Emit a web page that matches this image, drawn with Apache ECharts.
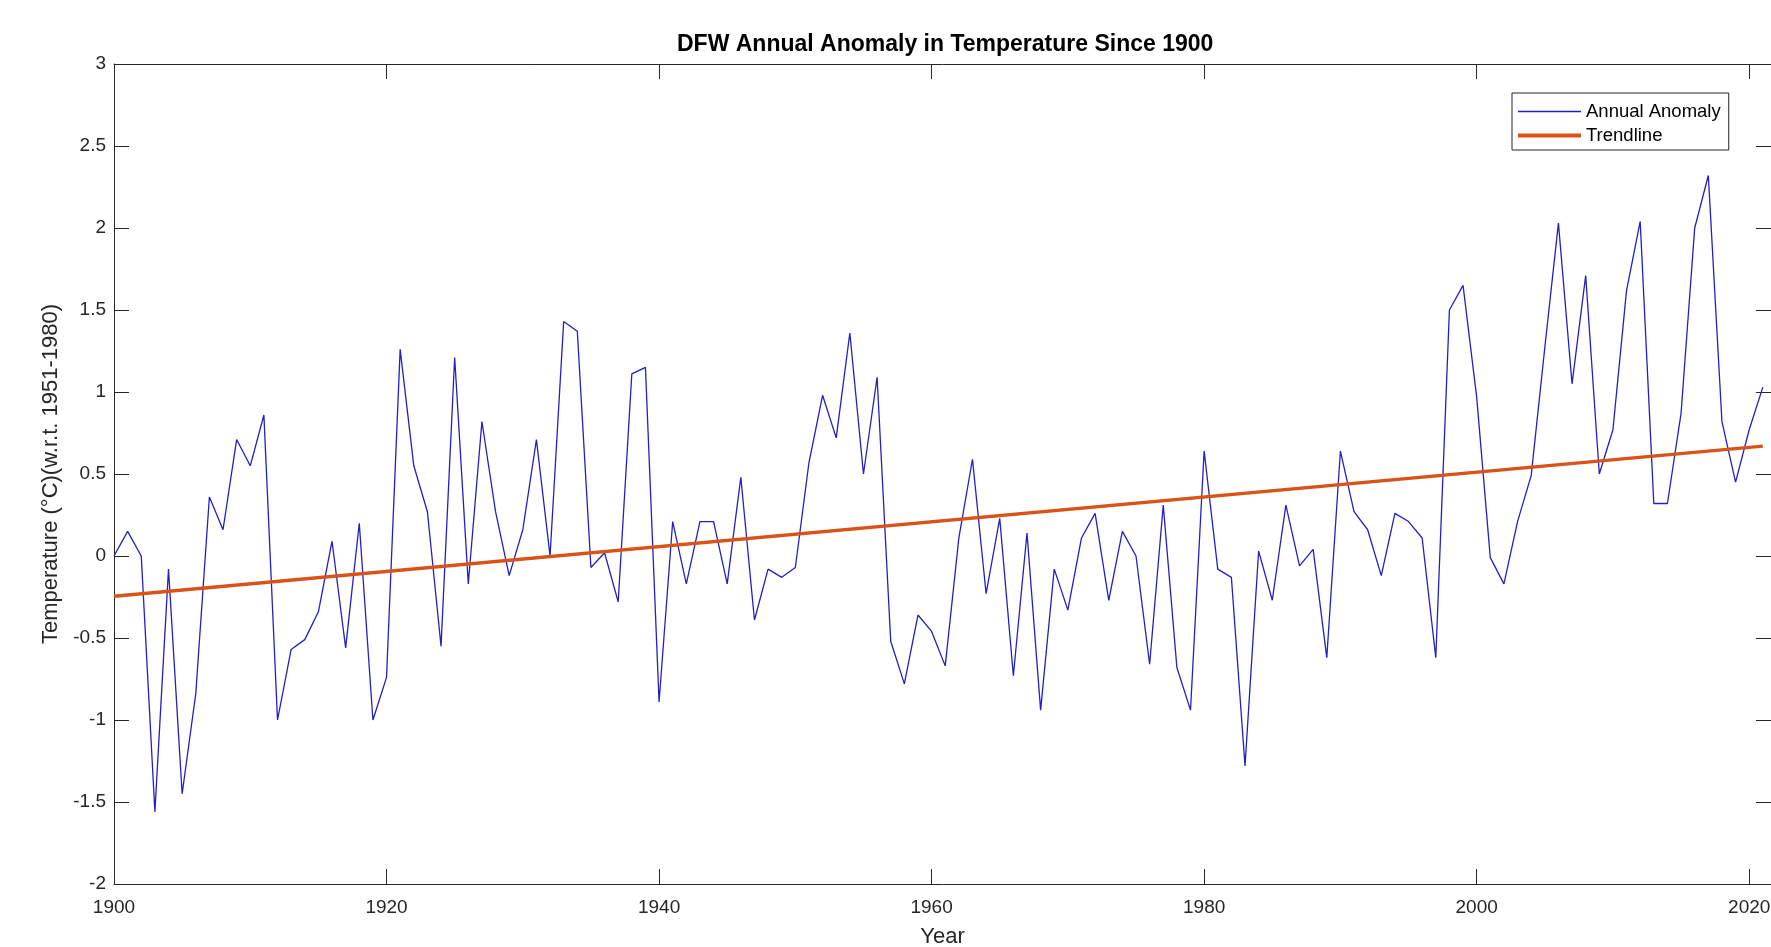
<!DOCTYPE html>
<html>
<head>
<meta charset="utf-8">
<title>DFW Annual Anomaly</title>
<script src="https://cdn.jsdelivr.net/npm/echarts@6/dist/echarts.min.js"></script>
<style>
html, body { margin: 0; padding: 0; background: #fff; }
#chart { width: 1771px; height: 947px; }
</style>
</head>
<body>
<div id="chart"></div>
<script>
// annual anomaly, one value per year starting 1900
var startYear = 1900
var anomaly = [
    0.00, 0.15, 0.00, -1.56, -0.08, -1.45, -0.84, 0.36, 0.16, 0.71,
    0.55, 0.86, -1.00, -0.57, -0.51, -0.34, 0.09, -0.56, 0.20, -1.00,
    -0.74, 1.26, 0.55, 0.27, -0.55, 1.21, -0.17, 0.82, 0.27, -0.12,
    0.16, 0.71, 0.00, 1.43, 1.37, -0.07, 0.02, -0.28, 1.11, 1.15,
    -0.89, 0.21, -0.17, 0.21, 0.21, -0.17, 0.48, -0.39, -0.08, -0.13,
    -0.07, 0.57, 0.98, 0.72, 1.36, 0.50, 1.09, -0.52, -0.78, -0.36,
    -0.46, -0.67, 0.11, 0.59, -0.23, 0.23, -0.73, 0.14, -0.94, -0.08,
    -0.33, 0.11, 0.26, -0.27, 0.15, 0.00, -0.66, 0.31, -0.68, -0.94,
    0.64, -0.08, -0.13, -1.28, 0.03, -0.27, 0.31, -0.06, 0.04, -0.62,
    0.64, 0.27, 0.16, -0.12, 0.26, 0.21, 0.11, -0.62, 1.50, 1.65,
    0.97, -0.01, -0.17, 0.21, 0.49, 1.27, 2.03, 1.05, 1.71, 0.50,
    0.77, 1.62, 2.04, 0.32, 0.32, 0.87, 2.00, 2.32, 0.82, 0.45,
    0.77, 1.03
]
// trendline end points [year, value]
var trendYears = [1900, 2021]
var trendValues = [-0.245, 0.67]

var xMin = 1900, xMax = 2021.6, xStep = 20
var yMin = -2, yMax = 3, yStep = 0.5

var fontFamily = "'Liberation Sans', Arial, sans-serif"
var axisColor = '#262626'
var blue = '#2020c4'
var orange = '#d95319'

var anomalyData = anomaly.map(function(v, i) {
    return [startYear + i, v]
})
var trendData = trendYears.map(function(y, i) {
    return [y, trendValues[i]]
})

var boxAxis = {
    axisLine: { show: true, onZero: false, lineStyle: { color: axisColor, width: 1 } },
    axisTick: { show: true, inside: true, length: 15, lineStyle: { color: axisColor, width: 1 } },
    splitLine: { show: false }
}

var myChart = echarts.init(document.getElementById('chart'), null, { renderer: 'canvas' })
var option = {
    backgroundColor: '#fff',
    animation: false,
    title: {
        text: 'DFW Annual Anomaly in Temperature Since 1900',
        left: 677,
        top: 33,
        padding: 0,
        textStyle: { fontFamily: fontFamily, fontSize: 23, fontWeight: 'bold', color: '#000' }
    },
    legend: {
        orient: 'vertical',
        left: 1512,
        top: 93,
        padding: [9, 8, 5, 6],
        itemWidth: 63,
        itemHeight: 18,
        itemGap: 5,
        borderColor: axisColor,
        borderWidth: 1,
        backgroundColor: '#fff',
        textStyle: { fontFamily: fontFamily, fontSize: 18.5, color: '#000', lineHeight: 18 },
        data: [
            { name: 'Annual Anomaly', icon: 'path://M0,0 M63,18 M0,8.3 L63,8.3 L63,9.7 L0,9.7 Z' },
            { name: 'Trendline', icon: 'path://M0,0 M63,18 M0,7 L63,7 L63,11 L0,11 Z' }
        ]
    },
    grid: { left: 114, right: 0, top: 64, bottom: 63, outerBoundsMode: 'none' },
    xAxis: [
        Object.assign({}, boxAxis, {
            type: 'value', position: 'bottom',
            min: xMin, max: xMax, interval: xStep,
            name: 'Year', nameLocation: 'middle', nameGap: 42,
            nameTextStyle: { fontFamily: fontFamily, fontSize: 22, color: axisColor },
            axisLabel: {
                margin: 14, color: axisColor, fontFamily: fontFamily, fontSize: 19,
                showMaxLabel: false,
                formatter: function(v) { return v % xStep === 0 ? String(v) : '' }
            }
        }),
        Object.assign({}, boxAxis, {
            type: 'value', position: 'top',
            min: xMin, max: xMax, interval: xStep,
            axisLabel: { show: false }
        })
    ],
    yAxis: [
        Object.assign({}, boxAxis, {
            type: 'value', position: 'left',
            min: yMin, max: yMax, interval: yStep,
            name: 'Temperature (°C)(w.r.t. 1951-1980)', nameLocation: 'middle', nameGap: 52,
            nameTextStyle: { fontFamily: fontFamily, fontSize: 22, color: axisColor },
            axisLabel: { margin: 8, color: axisColor, fontFamily: fontFamily, fontSize: 19 }
        }),
        Object.assign({}, boxAxis, {
            type: 'value', position: 'right',
            min: yMin, max: yMax, interval: yStep,
            axisLabel: { show: false }
        })
    ],
    series: [
        {
            name: 'Annual Anomaly',
            type: 'line',
            xAxisIndex: 0, yAxisIndex: 0,
            data: anomalyData,
            symbol: 'none',
            lineStyle: { color: blue, width: 1.3 },
            itemStyle: { color: blue },
            z: 2
        },
        {
            name: 'Trendline',
            type: 'line',
            xAxisIndex: 0, yAxisIndex: 0,
            data: trendData,
            symbol: 'none',
            lineStyle: { color: orange, width: 3.5 },
            itemStyle: { color: orange },
            z: 3
        }
    ]
}
myChart.setOption(option)
</script>
</body>
</html>
